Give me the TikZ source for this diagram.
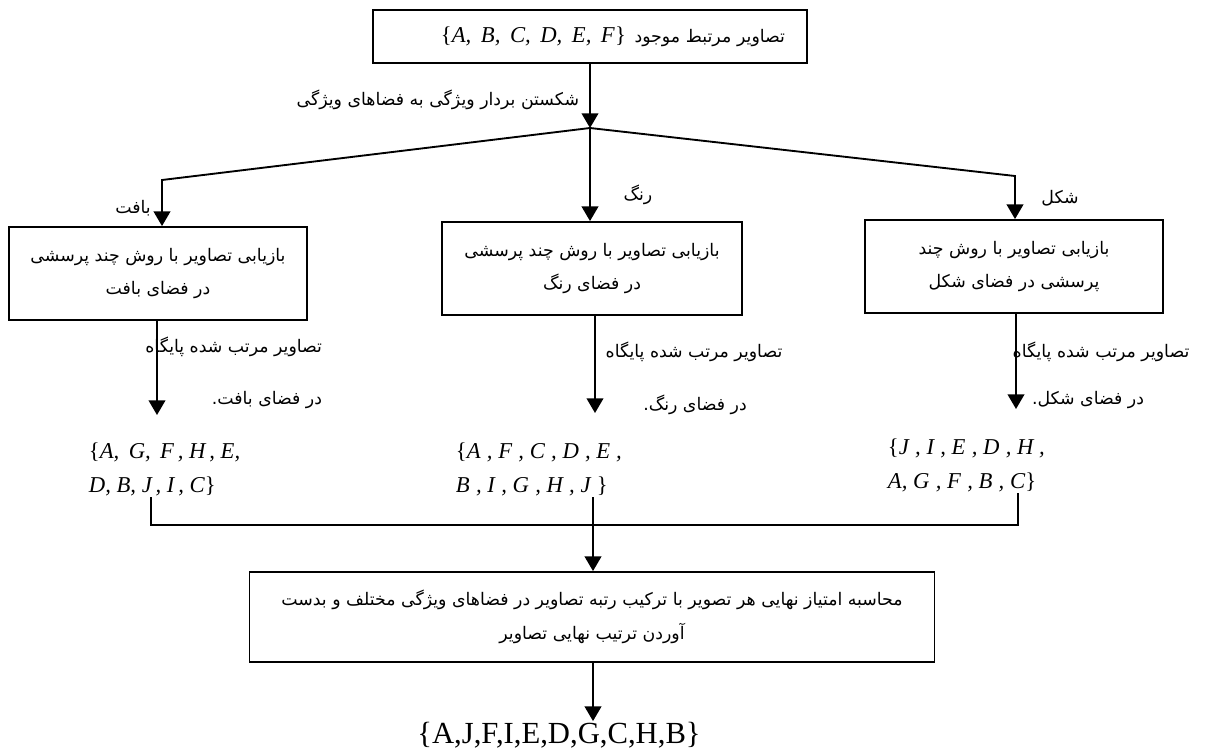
\documentclass[tikz,border=0pt]{standalone}
\usepackage{fontspec}
\usetikzlibrary{arrows.meta}
\TeXXeTstate=1
\newfontfamily\fa[Script=Arabic]{DejaVu Sans}
\newfontfamily\lat{Liberation Serif}
\newcommand{\fatx}[1]{{\fa\beginR #1\endR}}
\newcommand{\imgset}[1]{{\lat\itshape\fontsize{17}{20}\selectfont #1}}

\begin{document}
\begin{tikzpicture}[x=0.75pt,y=-0.75pt,line width=1.4pt,
    box/.style={draw,align=center,font=\fa\fontsize{13}{25}\selectfont},
    arr/.style={-{Triangle[width=12.5pt,length=11pt]}},
    lbl/.style={font=\fa\fontsize{13}{16}\selectfont,inner sep=0pt},
    lst/.style={align=left,font=\lat\itshape\fontsize{17}{26}\selectfont,inner sep=0pt}]
  \useasboundingbox (0,0) rectangle (1205,754);
  % boxes
  \node[box,minimum width=325.5pt,minimum height=39.75pt,text width=292.5pt,
        inner xsep=16.5pt,align=right] (related) at (590,36.5)
    {\imgset{\textup{\{}A,\ \,B,\ \,C,\ \,D,\ \,E,\ \,F\textup{\}}}\enspace\fatx{تصاویر مرتبط موجود}};
  \node[box,minimum width=223.5pt,minimum height=69.75pt] (texture) at (158,273.5)
    {\fatx{بازیابی تصاویر با روش چند پرسشی}\\ \fatx{در فضای بافت}};
  \node[box,minimum width=225pt,minimum height=69.75pt] (color) at (592,268.5)
    {\fatx{بازیابی تصاویر با روش چند پرسشی}\\ \fatx{در فضای رنگ}};
  \node[box,minimum width=223.5pt,minimum height=69.75pt] (shape) at (1014,266.5)
    {\fatx{بازیابی تصاویر  با روش چند}\\ \fatx{پرسشی در فضای شکل}};
  \node[box,minimum width=513.75pt,minimum height=67.5pt] (fuse) at (592,617)
    {\fatx{محاسبه امتیاز نهایی هر تصویر با ترکیب رتبه تصاویر در فضاهای ویژگی مختلف و بدست}\\
     \fatx{آوردن ترتیب نهایی تصاویر}};
  % labels
  \node[lbl,anchor=east] (split lbl) at (580,100) {\fatx{شکستن بردار ویژگی به فضاهای ویژگی}};
  \node[lbl] (tex lbl) at (133,208) {\fatx{بافت}};
  \node[lbl] (col lbl) at (638,195) {\fatx{رنگ}};
  \node[lbl] (shp lbl) at (1060,198) {\fatx{شکل}};
  \node[lbl,anchor=east] (tex rank) at (323,347) {\fatx{تصاویر مرتب شده پایگاه}};
  \node[lbl,anchor=east] (tex space) at (323,400) {\fatx{در فضای بافت.}};
  \node[lbl] (col rank) at (694,352) {\fatx{تصاویر مرتب شده پایگاه}};
  \node[lbl] (col space) at (695,405) {\fatx{در فضای رنگ.}};
  \node[lbl] (shp rank) at (1101,352) {\fatx{تصاویر مرتب شده پایگاه}};
  \node[lbl] (shp space) at (1088,400) {\fatx{در فضای شکل.}};
  % ranked lists
  \node[lst,anchor=west] (ltex) at (88,469.5)
    {\textup{\{}A,\,\ G,\,\ F\,,\ H\,,\ E,\\ D,\ B,\ J\,,\ I\,,\ C\textup{\}}};
  \node[lst,anchor=west] (lcol) at (455,469.5)
    {\textup{\{}A\;,\ F\;,\ C\;,\ D\;,\ E\ ,\\ B\;,\ I\;,\ G\;,\ H\;,\ J\;\textup{\}}};
  \node[lst,anchor=west] (lshp) at (887,465.5)
    {\textup{\{}J\;,\ I\;,\ E\;,\ D\;,\ H\ ,\\ A,\ G\;,\ F\;,\ B\;,\ C\textup{\}}};
  \node[inner sep=0pt,font=\lat\fontsize{23}{26}\selectfont] (final) at (559,735)
    {\{A,J,F,I,E,D,G,C,H,B\}};
  % connectors
  \coordinate (split) at (590,128);
  \coordinate (lcorner) at (162,180);
  \coordinate (rcorner) at (1015,176);
  \coordinate (ttip) at (157,415);
  \coordinate (ctip) at (595,413);
  \coordinate (stip) at (1016,409);
  \coordinate (jl) at (151,525);
  \coordinate (jm) at (593,525);
  \coordinate (jr) at (1018,525);
  \draw[arr] (related.south -| split) -- (split);
  \draw[arr] (split) -- (lcorner) -- (texture.north -| lcorner);
  \draw[arr] (split) -- (split |- color.north);
  \draw[arr] (split) -- (rcorner) -- (shape.north -| rcorner);
  \draw[arr] (texture.south -| ttip) -- (ttip);
  \draw[arr] (color.south -| ctip) -- (ctip);
  \draw[arr] (shape.south -| stip) -- (stip);
  \draw (ltex.south -| jl) -- (jl) -- (jr) -- (lshp.south -| jr);
  \draw (lcol.south -| jm) -- (jm);
  \draw[arr] (jm) -- (fuse.north -| jm);
  \draw[arr] (fuse.south -| jm) -- (final.north -| jm);
\end{tikzpicture}
\end{document}
